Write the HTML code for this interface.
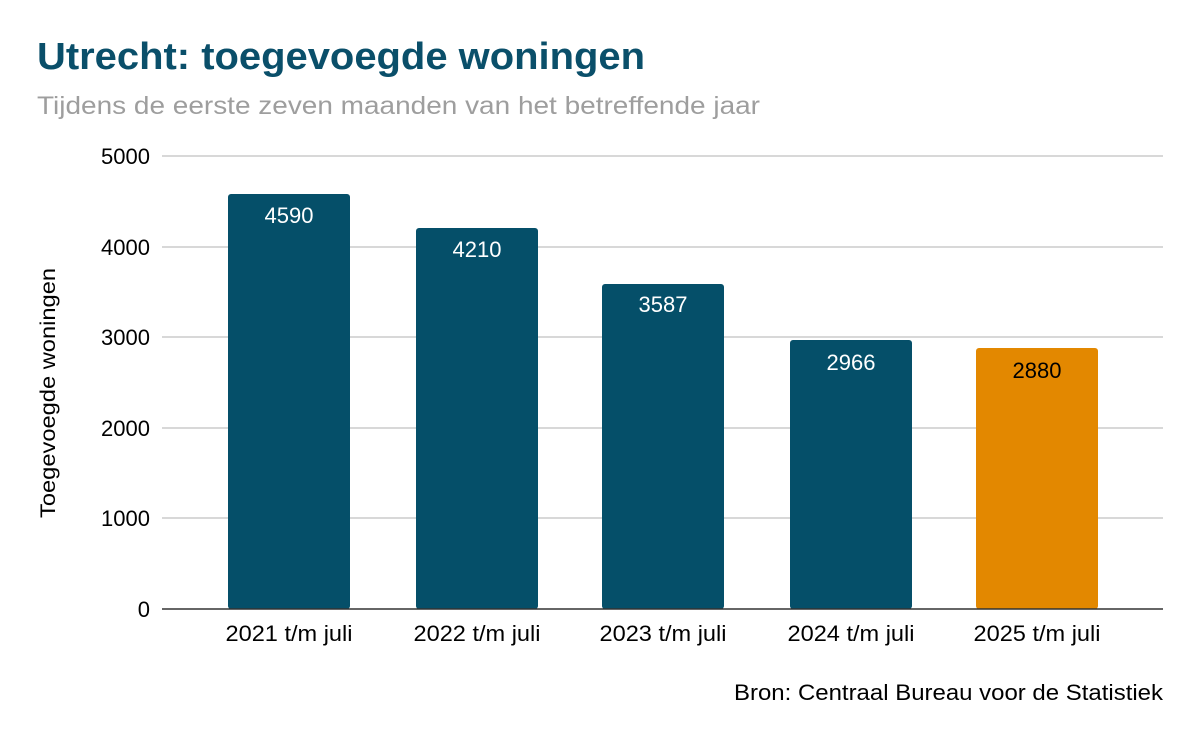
<!DOCTYPE html>
<html><head><style>
body{margin:0;background:#fff;}
svg text{font-family:"Liberation Sans",Arial,sans-serif;}
</style></head><body>
<svg width="1200" height="742" xmlns="http://www.w3.org/2000/svg">
<rect width="1200" height="742" fill="#fff"/>
<text x="37" y="69" font-size="38" font-weight="bold" fill="#0a4f6a" textLength="608" lengthAdjust="spacingAndGlyphs">Utrecht: toegevoegde woningen</text>
<text x="37" y="114" font-size="25" fill="#9e9e9e" textLength="723" lengthAdjust="spacingAndGlyphs">Tijdens de eerste zeven maanden van het betreffende jaar</text>
<g stroke="#cccccc" stroke-width="1.5">
<line x1="162" x2="1163" y1="156" y2="156"/>
<line x1="162" x2="1163" y1="247" y2="247"/>
<line x1="162" x2="1163" y1="337" y2="337"/>
<line x1="162" x2="1163" y1="428" y2="428"/>
<line x1="162" x2="1163" y1="518" y2="518"/>
</g>
<g font-size="22" fill="#000" text-anchor="end">
<text x="150" y="164">5000</text>
<text x="150" y="255">4000</text>
<text x="150" y="345">3000</text>
<text x="150" y="436">2000</text>
<text x="150" y="526">1000</text>
<text x="150" y="617">0</text>
</g>
<g fill="#054f69">
<rect x="228" y="194" width="122" height="415" rx="3"/>
<rect x="416" y="228" width="122" height="381" rx="3"/>
<rect x="602" y="284" width="122" height="325" rx="3"/>
<rect x="790" y="340" width="122" height="269" rx="3"/>
</g>
<rect x="976" y="348" width="122" height="261" rx="3" fill="#e38800"/>
<line x1="162" x2="1163" y1="609" y2="609" stroke="#333" stroke-width="1.5"/>
<g font-size="22" text-anchor="middle">
<text x="289" y="223" fill="#fff">4590</text>
<text x="477" y="257" fill="#fff">4210</text>
<text x="663" y="312" fill="#fff">3587</text>
<text x="851" y="370" fill="#fff">2966</text>
<text x="1037" y="378" fill="#000">2880</text>
</g>
<g font-size="22" text-anchor="middle" fill="#000">
<text x="289" y="641" textLength="127" lengthAdjust="spacingAndGlyphs">2021 t/m juli</text>
<text x="477" y="641" textLength="127" lengthAdjust="spacingAndGlyphs">2022 t/m juli</text>
<text x="663" y="641" textLength="127" lengthAdjust="spacingAndGlyphs">2023 t/m juli</text>
<text x="851" y="641" textLength="127" lengthAdjust="spacingAndGlyphs">2024 t/m juli</text>
<text x="1037" y="641" textLength="127" lengthAdjust="spacingAndGlyphs">2025 t/m juli</text>
</g>
<text transform="translate(55,393) rotate(-90)" font-size="21" text-anchor="middle" fill="#000" textLength="250" lengthAdjust="spacingAndGlyphs">Toegevoegde woningen</text>
<text x="1163" y="700" font-size="22" text-anchor="end" fill="#000" textLength="429" lengthAdjust="spacingAndGlyphs">Bron: Centraal Bureau voor de Statistiek</text>
</svg>
</body></html>
